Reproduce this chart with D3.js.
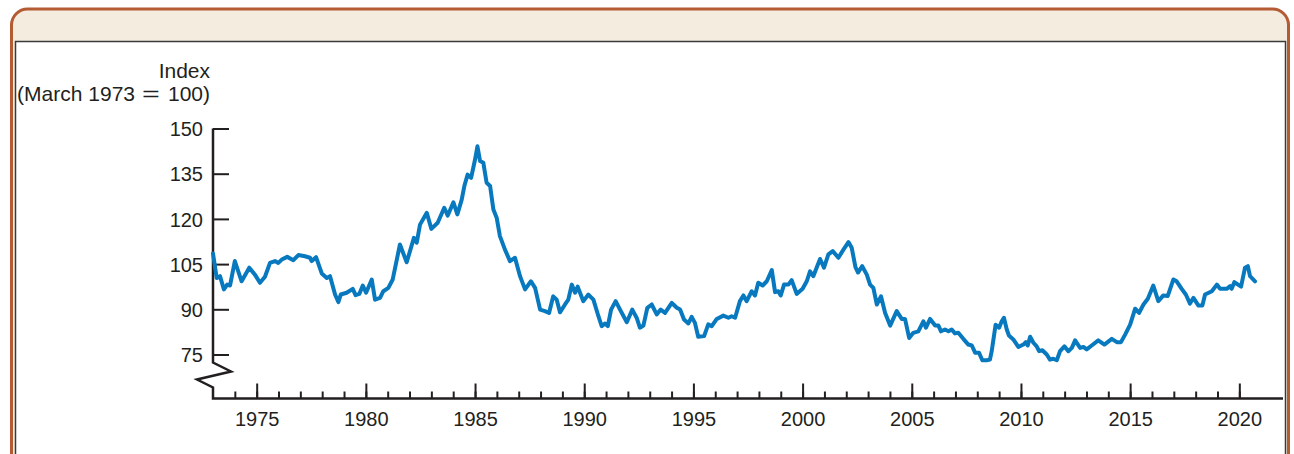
<!DOCTYPE html>
<html lang="en">
<head>
<meta charset="UTF-8">
<title>Index, March 1973 = 100</title>
<style>
  body { margin: 0; background: #fff; }
  svg { display: block; font-family: "Liberation Sans", Arial, sans-serif; }
  .axis text { font-size: 20px; fill: #231f20; }
  .axis .domain { display: none; }
  .axis line { stroke: #231f20; stroke-width: 2; }
  .label { font-size: 21px; fill: #231f20; }
</style>
<script src="https://d3js.org/d3.v7.min.js"></script>
</head>
<body>
<script>
// Index values (decimal year, index level)
var years = [
  1973.00, 1973.17, 1973.32, 1973.50, 1973.65, 1973.78, 1974.00, 1974.31, 1974.66, 1974.92,
  1975.15, 1975.38, 1975.61, 1975.84, 1975.99, 1976.15, 1976.40, 1976.68, 1976.91, 1977.21,
  1977.44, 1977.52, 1977.72, 1977.98, 1978.21, 1978.36, 1978.59, 1978.74, 1978.85, 1979.12,
  1979.40, 1979.53, 1979.70, 1979.86, 1980.01, 1980.27, 1980.42, 1980.65, 1980.80, 1981.03,
  1981.23, 1981.56, 1981.87, 1982.20, 1982.33, 1982.48, 1982.79, 1983.00, 1983.29, 1983.59,
  1983.75, 1984.01, 1984.19, 1984.39, 1984.51, 1984.66, 1984.82, 1985.00, 1985.11, 1985.23,
  1985.38, 1985.53, 1985.69, 1985.84, 1985.99, 1986.14, 1986.37, 1986.60, 1986.83, 1987.06,
  1987.29, 1987.56, 1987.75, 1987.98, 1988.20, 1988.39, 1988.58, 1988.74, 1988.89, 1989.12,
  1989.27, 1989.43, 1989.58, 1989.70, 1989.96, 1990.19, 1990.42, 1990.65, 1990.80, 1990.95,
  1991.08, 1991.23, 1991.44, 1991.64, 1991.95, 1992.20, 1992.40, 1992.55, 1992.71, 1992.89,
  1993.09, 1993.32, 1993.50, 1993.70, 1994.01, 1994.24, 1994.39, 1994.57, 1994.77, 1994.92,
  1995.07, 1995.22, 1995.49, 1995.68, 1995.84, 1996.07, 1996.37, 1996.60, 1996.75, 1996.91,
  1997.13, 1997.29, 1997.44, 1997.67, 1997.82, 1997.97, 1998.17, 1998.36, 1998.59, 1998.74,
  1998.89, 1999.00, 1999.15, 1999.35, 1999.50, 1999.73, 2000.00, 2000.19, 2000.34, 2000.49,
  2000.80, 2000.98, 2001.18, 2001.38, 2001.64, 2001.87, 2002.10, 2002.25, 2002.42, 2002.54,
  2002.73, 2002.94, 2003.09, 2003.24, 2003.40, 2003.59, 2003.78, 2004.01, 2004.31, 2004.54,
  2004.69, 2004.88, 2005.07, 2005.30, 2005.53, 2005.65, 2005.84, 2006.07, 2006.22, 2006.34,
  2006.52, 2006.68, 2006.83, 2006.98, 2007.13, 2007.36, 2007.59, 2007.75, 2007.90, 2008.08,
  2008.23, 2008.43, 2008.58, 2008.66, 2008.84, 2009.00, 2009.12, 2009.22, 2009.35, 2009.45,
  2009.65, 2009.88, 2010.11, 2010.22, 2010.31, 2010.42, 2010.57, 2010.72, 2010.83, 2010.98,
  2011.18, 2011.33, 2011.48, 2011.64, 2011.79, 2011.99, 2012.17, 2012.33, 2012.48, 2012.71,
  2012.86, 2013.01, 2013.24, 2013.54, 2013.82, 2014.16, 2014.39, 2014.58, 2014.77, 2015.00,
  2015.23, 2015.41, 2015.61, 2015.81, 2016.06, 2016.29, 2016.52, 2016.72, 2016.98, 2017.13,
  2017.36, 2017.55, 2017.74, 2017.90, 2018.12, 2018.31, 2018.43, 2018.74, 2018.97, 2019.12,
  2019.42, 2019.58, 2019.65, 2019.77, 2020.08, 2020.26, 2020.39, 2020.49, 2020.72
];
var values = [
  108.5, 100.4, 101.0,  96.6,  98.2,  97.9, 106.0,  99.3, 103.8, 101.5,
   98.8, 100.8, 105.4, 106.0, 105.4, 106.5, 107.4, 106.3, 108.0, 107.6,
  107.1, 106.0, 107.3, 101.9, 100.4, 101.0,  94.9,  92.4,  94.9,  95.5,
   96.8,  94.7,  95.1,  97.9,  95.5,  99.9,  93.2,  93.8,  96.0,  97.1,
   99.9, 111.5, 105.6, 113.7, 112.1, 118.1, 122.0, 116.7, 118.7, 123.7,
  121.1, 125.5, 121.5, 126.4, 130.9, 134.7, 133.6, 139.7, 144.1, 139.2,
  138.6, 132.0, 130.9, 123.1, 120.4, 114.3, 109.8, 106.0, 107.1, 101.0,
   96.6,  99.3,  97.1,  89.9,  89.4,  88.8,  94.3,  93.2,  89.0,  91.6,
   93.2,  98.2,  95.5,  97.5,  92.7,  94.9,  93.2,  87.7,  84.4,  85.3,
   84.4,  89.9,  92.7,  89.9,  85.7,  89.9,  87.2,  83.9,  84.6,  90.5,
   91.6,  88.3,  89.9,  88.8,  92.1,  90.5,  89.9,  86.6,  85.3,  87.5,
   85.5,  80.9,  81.1,  85.0,  84.4,  86.8,  87.9,  87.2,  87.7,  87.2,
   92.7,  94.6,  92.7,  96.0,  94.6,  98.8,  97.9,  99.3, 103.0,  95.7,
   96.0,  94.6,  98.2,  98.2,  99.7,  95.1,  96.8,  99.3, 102.6, 101.0,
  106.7, 103.8, 108.2, 109.3, 107.1, 109.8, 112.3, 110.4, 104.0, 102.2,
  104.3, 101.5,  98.2,  97.1,  91.6,  94.3,  88.8,  84.6,  89.4,  86.8,
   86.8,  80.5,  82.2,  82.7,  86.0,  83.9,  86.8,  84.6,  84.6,  82.7,
   83.3,  82.7,  83.3,  82.0,  82.2,  80.2,  78.3,  78.0,  75.6,  75.6,
   73.1,  73.1,  73.3,  76.1,  84.9,  83.9,  86.0,  87.2,  83.3,  81.3,
   80.0,  77.5,  78.3,  79.1,  78.0,  80.9,  78.9,  77.7,  76.1,  76.4,
   75.0,  73.3,  73.6,  73.1,  76.1,  77.7,  76.1,  77.2,  79.7,  77.2,
   77.5,  76.7,  78.0,  79.7,  78.3,  80.2,  79.1,  79.1,  81.6,  84.9,
   90.2,  88.8,  91.6,  93.5,  97.9,  92.7,  94.6,  94.4,  99.9,  99.3,
   96.8,  94.9,  91.9,  93.8,  91.3,  91.3,  94.9,  96.0,  98.2,  96.8,
   96.8,  97.7,  96.8,  99.0,  97.5, 103.8, 104.3, 101.0,  99.3
];
var yTicks = [75, 90, 105, 120, 135, 150];
var majorYears = [1975, 1980, 1985, 1990, 1995, 2000, 2005, 2010, 2015, 2020];
var minorYears = d3.range(1974, 2021);

var data = years.map(function(d, i) { return {year: d, value: values[i]}; });

var fullWidth = 1294, fullHeight = 454;

var svg = d3.select('body').append('svg')
  .attr('width', fullWidth)
  .attr('height', fullHeight);

// Panel frame
svg.append('rect')
  .attr('x', 11.5).attr('y', 9)
  .attr('width', 1277).attr('height', 480)
  .attr('rx', 16)
  .attr('fill', '#f4ecde')
  .attr('stroke', '#b45b34')
  .attr('stroke-width', 3);

svg.append('rect')
  .attr('x', 15.5).attr('y', 41.5)
  .attr('width', 1270).attr('height', 440)
  .attr('fill', '#fff')
  .attr('stroke', '#3a3a3a')
  .attr('stroke-width', 1.5);

// Scales
var x = d3.scaleLinear().domain([1973, 2022]).range([213, 1283]);
var y = d3.scaleLinear().domain([75, 150]).range([354.5, 128.5]);

var axisY = y(75) + 44;

// Axis line with break
var brk = y(75);
var axisPts = [
  [x(1973), y(150)], [x(1973), brk + 8], [x(1973) + 18, brk + 17],
  [x(1973) - 16, brk + 25], [x(1973), brk + 33], [x(1973), axisY], [x(2022), axisY]
];
svg.append('path')
  .attr('d', d3.line()(axisPts))
  .attr('fill', 'none')
  .attr('stroke', '#231f20')
  .attr('stroke-width', 2.5)
  .attr('stroke-linejoin', 'miter');

// Y axis ticks and labels
svg.append('g')
  .attr('class', 'y axis')
  .attr('transform', 'translate(' + x(1973) + ',0)')
  .call(d3.axisLeft(y).tickValues(yTicks).tickSize(-16).tickPadding(10))
  .call(function(g) {
    g.selectAll('.tick line').attr('stroke', '#444').attr('stroke-width', 1.5);
    g.selectAll('.tick text').attr('dy', '0.36em');
  });

// X axis minor ticks
svg.append('g')
  .attr('class', 'x axis minor')
  .attr('transform', 'translate(0,' + axisY + ')')
  .call(d3.axisBottom(x).tickValues(minorYears).tickSize(-7).tickFormat(''));

// X axis major ticks + labels
svg.append('g')
  .attr('class', 'x axis major')
  .attr('transform', 'translate(0,' + axisY + ')')
  .call(d3.axisBottom(x).tickValues(majorYears).tickSize(-15).tickPadding(13).tickFormat(d3.format('d')));

// Axis title
svg.append('text')
  .attr('class', 'label')
  .attr('x', 210).attr('y', 78)
  .attr('text-anchor', 'end')
  .text('Index');

svg.append('text')
  .attr('class', 'label')
  .attr('x', 135).attr('y', 101)
  .attr('text-anchor', 'end')
  .text('(March 1973');

svg.append('text')
  .attr('class', 'label')
  .attr('transform', 'translate(151,101) scale(1.45,1)')
  .attr('text-anchor', 'middle')
  .text('=');

svg.append('text')
  .attr('class', 'label')
  .attr('x', 210).attr('y', 101)
  .attr('text-anchor', 'end')
  .text('100)');

// Index line
var line = d3.line()
  .x(function(d) { return x(d.year); })
  .y(function(d) { return y(d.value); });

svg.append('path')
  .datum(data)
  .attr('fill', 'none')
  .attr('stroke', '#0879bf')
  .attr('stroke-width', 4)
  .attr('stroke-linejoin', 'round')
  .attr('stroke-linecap', 'round')
  .attr('d', line);
</script>
</body>
</html>
